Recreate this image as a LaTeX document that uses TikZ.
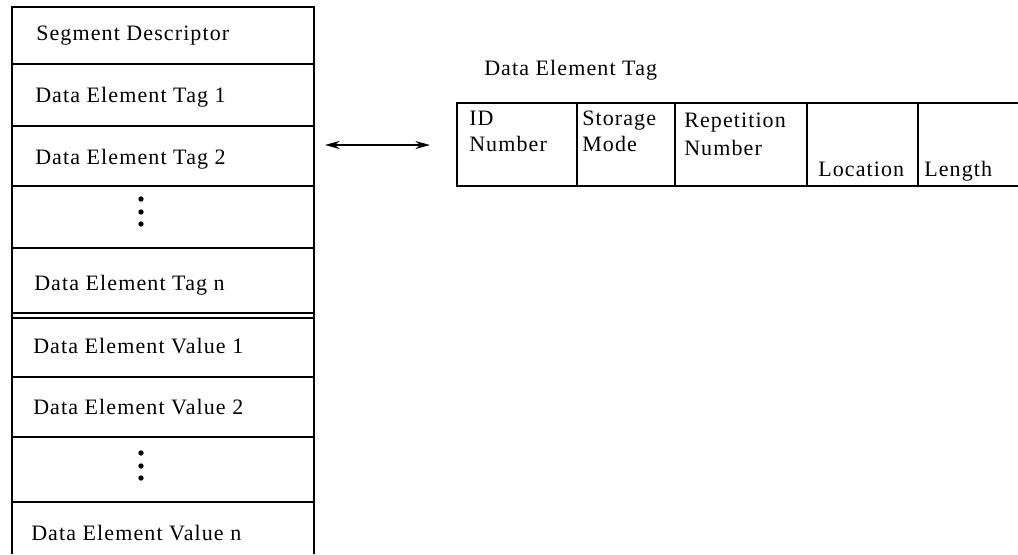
\documentclass[tikz,border=0pt]{standalone}
\usepackage{fontspec}
\setmainfont{Liberation Serif}[LetterSpace=5]
\usetikzlibrary{arrows.meta}
\begin{document}
\begin{tikzpicture}[x=0.75pt,y=-0.75pt,
  rowline/.style={line width=1.5pt},
  cell/.style={line width=1.3pt},
  lbl/.style={anchor=base west,inner sep=0pt,font=\fontsize{16.5}{19}\selectfont},
  dotmark/.style={fill=black,draw=none}]
\useasboundingbox (0,0) rectangle (1018,554);
% left column
\draw[cell] (12,554) -- (12,7) -- (314,7) -- (314,554);
\foreach \y in {64,126,186,248,313,318,377,437,502}
  \draw[rowline] (12,\y) -- (314,\y);
\node[lbl] (sd) at (36,40) {Segment Descriptor};
\node[lbl] (t1) at (35,102) {Data Element Tag 1};
\node[lbl] (t2) at (35,164) {Data Element Tag 2};
\node[lbl] (tn) at (34,290) {Data Element Tag n};
\node[lbl] (v1) at (33,353) {Data Element Value 1};
\node[lbl] (v2) at (33,414) {Data Element Value 2};
\node[lbl] (vn) at (31,540) {Data Element Value n};
\foreach \y in {199,212,224,453,466,478}
  \fill[dotmark] (141,\y) circle (2.7);
% arrow
\coordinate (al) at (325,145);
\coordinate (ar) at (430,145);
\draw[line width=1.3pt,{Stealth[length=11pt,width=6pt]}-{Stealth[length=11pt,width=6pt]}] (al) -- (ar);
% right table
\node[lbl] (title) at (484,75) {Data Element Tag};
\draw[cell] (1018,103) -- (457,103) -- (457,186) -- (1018,186);
\foreach \x in {577,675,807,918}
  \draw[cell] (\x,103) -- (\x,186);
\node[lbl] (id1) at (469,125) {ID};
\node[lbl] (id2) at (469,151) {Number};
\node[lbl] (sm1) at (582,125) {Storage};
\node[lbl] (sm2) at (582,151) {Mode};
\node[lbl] (rn1) at (684,127) {Repetition};
\node[lbl] (rn2) at (684,155) {Number};
\node[lbl] (loc) at (818,176) {Location};
\node[lbl] (len) at (924,176) {Length};
\end{tikzpicture}
\end{document}
